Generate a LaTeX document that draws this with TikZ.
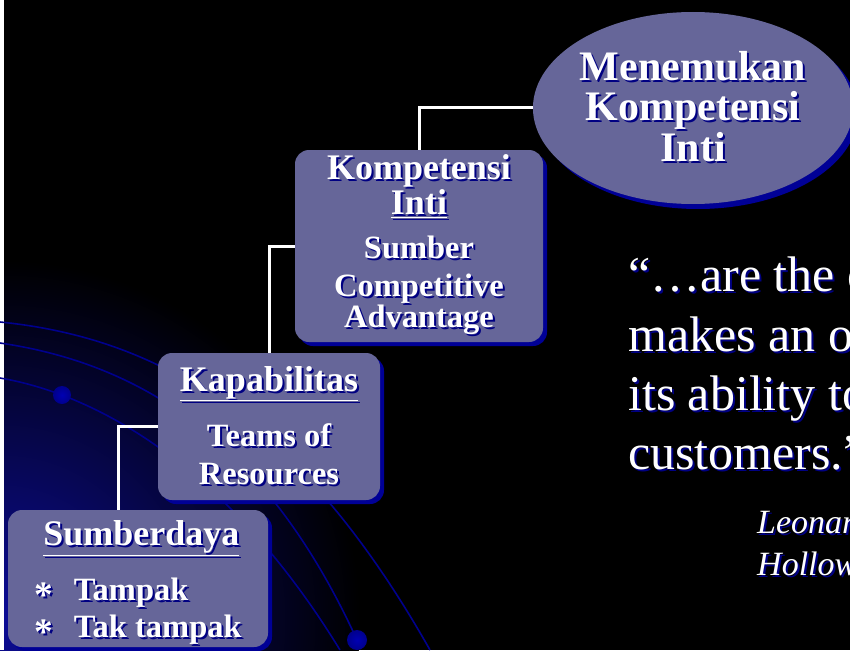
\documentclass[tikz,border=0pt]{standalone}
\usepackage{fontspec}
\usepackage{graphicx}
\setmainfont{Liberation Serif}
\usetikzlibrary{shapes.geometric,shadows}
\definecolor{boxfill}{RGB}{102,102,153}
\definecolor{boxshade}{RGB}{0,0,150}
\definecolor{txtshade}{RGB}{0,0,130}
\definecolor{swoosh}{RGB}{0,0,140}
\definecolor{glow}{RGB}{12,12,150}
\newcommand{\shad}[1]{\leavevmode\rlap{\kern2pt\raisebox{-2pt}{\textcolor{txtshade}{#1}}}#1}
\newcommand{\ttl}[1]{\shad{\fontsize{36}{36}\selectfont #1}}
\newcommand{\bullt}{\raisebox{-7pt}{\scalebox{1.15}{*}}}

\begin{document}
\begin{tikzpicture}[x=1pt,y=-1pt,
  blockbox/.style={rectangle, rounded corners=14pt, fill=boxfill, text=white, inner sep=0pt,
    font=\fontsize{32.5}{32.5}\selectfont\bfseries,
    general shadow={fill=boxshade, shadow xshift=4pt, shadow yshift=-4pt}},
  link/.style={white, line width=3pt},
  swooshline/.style={swoosh, line width=1.6pt},
  quote/.style={anchor=base west, text=white, inner sep=0pt, font=\fontsize{50}{50}\selectfont},
  cite/.style={anchor=base west, text=white, inner sep=0pt, font=\fontsize{34}{34}\selectfont\itshape}]
\path[use as bounding box] (0,0) rectangle (850,650);
\clip (0,0) rectangle (850,650);
% background
\fill[black] (0,0) rectangle (850,650);
\fill[inner color=glow, outer color=black] (0,620) circle (360);
\fill[white] (0,0) rectangle (4,650);
\draw[swooshline] (0,322) .. controls (160,338) and (300,420) .. (430,650);
\draw[swooshline] (0,343) .. controls (150,365) and (270,450) .. (357,640);
\draw[swooshline] (0,378) .. controls (100,395) and (230,470) .. (340,650);
\shade[inner color=blue!70!black, outer color=swoosh] (62,395) circle (9);
\shade[inner color=blue!70!black, outer color=swoosh] (357,640) circle (10);

% blocks
\node[blockbox, align=left, minimum width=260pt, minimum height=137pt] (sumber) at (138,578.5)
  {\rule{0pt}{35pt}\hspace*{9pt}\ttl{\underline{Sumberdaya}}\\[19.5pt]
   \shad{\bullt\hspace{21pt}Tampak}\\[4.5pt]
   \shad{\bullt\hspace{21pt}Tak tampak}};
\node[blockbox, align=center, minimum width=222pt, minimum height=147pt] (kapab) at (269,426.5)
  {\ttl{\underline{Kapabilitas}}\\[19.5pt] \shad{Teams of}\\[5.5pt] \shad{Resources}};
\node[blockbox, align=center, minimum width=248pt, minimum height=192pt] (kompet) at (419,246)
  {\ttl{Kompetensi}\\[-0.5pt] \ttl{\underline{Inti}}\\[11.5pt] \shad{Sumber}\\[5.5pt]
   \shad{Competitive}\\[-1.5pt] \shad{Advantage}};
\node[ellipse, fill=boxfill, text=white, inner sep=0pt, align=center,
  minimum width=320pt, minimum height=192pt, font=\fontsize{42}{40}\selectfont\bfseries,
  general shadow={fill=boxshade, shadow xshift=5pt, shadow yshift=-5pt}] (menemu) at (693,108)
  {\shad{Menemukan}\\ \shad{Kompetensi}\\ \shad{Inti}};

% connectors
\coordinate (drop) at (118,0);
\draw[link] (menemu.west) -| (kompet.north);
\draw[link] (kompet.west) -| (kapab.north);
\draw[link] (kapab.west) -| (drop |- sumber.north);

% quote
\node[quote] (q1) at (628,291) {\shad{“…are the c}};
\node[quote] (q2) at (628,351) {\shad{makes an o}};
\node[quote] (q3) at (628,410) {\shad{its ability to}};
\node[quote] (q4) at (628,469) {\shad{customers.”}};
\node[cite] (c1) at (757,533) {\shad{Leonar}};
\node[cite] (c2) at (757,575) {\shad{Hollow}};
\end{tikzpicture}
\end{document}
